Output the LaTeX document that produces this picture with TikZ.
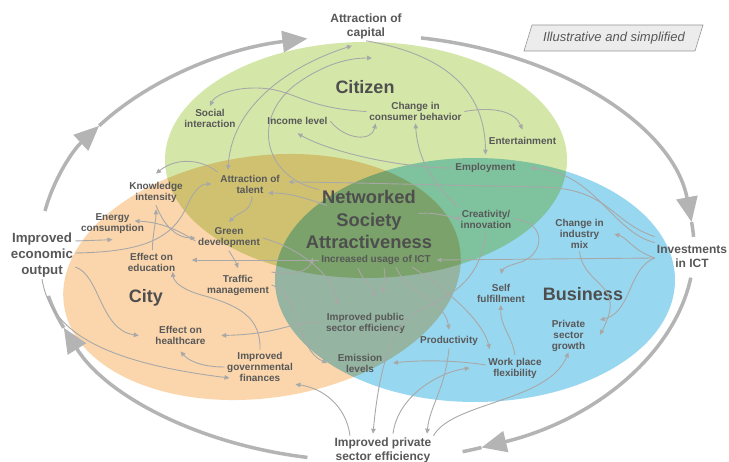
\documentclass[tikz,border=0pt]{standalone}
\usepackage{fontspec}
\setmainfont{Liberation Sans}
\usetikzlibrary{arrows.meta,calc}
\definecolor{txt}{RGB}{88,88,88}
\definecolor{bigtxt}{RGB}{78,78,78}
\definecolor{conn}{RGB}{168,168,168}
\definecolor{ringC}{RGB}{180,180,180}
\definecolor{greenF}{RGB}{212,231,168}
\definecolor{orangeF}{RGB}{251,214,172}
\definecolor{blueF}{RGB}{152,215,240}
\begin{document}
\begin{tikzpicture}[x=1pt,y=-1pt,
  slbl/.style={font=\fontsize{10}{11}\selectfont\bfseries, text=txt, align=center, inner sep=2.5pt},
  olbl/.style={font=\fontsize{12}{14}\selectfont\bfseries, text=txt, align=center, inner sep=2pt},
  elbl/.style={font=\fontsize{13.3}{15.7}\selectfont\bfseries, text=txt, align=center, inner sep=2pt},
  blbl/.style={font=\fontsize{18}{21}\selectfont\bfseries, text=bigtxt, align=center, inner sep=1pt},
  con/.style={draw=conn, line width=0.9pt, -{Triangle[length=5pt,width=4.5pt]}},
  ringline/.style={draw=ringC, line width=3.5pt},
  ringarrow/.style={ringline, -{Triangle[length=25pt,width=21pt]}},
]
\useasboundingbox (0,0) rectangle (729,462);
\fill[white] (0,0) rectangle (729,462);

% the three domains
\begin{scope}[blend group=multiply]
  \fill[greenF] (366,160) ellipse [x radius=201, y radius=118];
  \fill[orangeF, rotate around={8:(262,277)}] (262,277) ellipse [x radius=200, y radius=121];
  \fill[blueF] (475,280) ellipse [x radius=200, y radius=122];
\end{scope}

% outer cycle
\coordinate (O) at (367,248);
\draw[ringarrow] ([shift={(190:327 and 213)}]O) arc[start angle=190, end angle=215, x radius=327, y radius=213];
\draw[ringarrow] ([shift={(215:327 and 213)}]O) arc[start angle=215, end angle=259.5, x radius=327, y radius=213];
\draw[ringarrow] ([shift={(279.5:327 and 213)}]O) arc[start angle=279.5, end angle=353, x radius=327, y radius=213];
\draw[ringline] ([shift={(353:327 and 213)}]O) arc[start angle=353, end angle=357, x radius=327, y radius=213];
\draw[ringarrow] ([shift={(368:327 and 213)}]O) arc[start angle=368, end angle=429.5, x radius=327, y radius=213];
\draw[ringline] ([shift={(429.5:327 and 213)}]O) arc[start angle=429.5, end angle=433, x radius=327, y radius=213];
\draw[ringarrow] ([shift={(100.5:327 and 213)}]O) arc[start angle=100.5, end angle=158, x radius=327, y radius=213];
\draw[ringline] ([shift={(158:327 and 213)}]O) arc[start angle=158, end angle=167, x radius=327, y radius=213];

% illustrative box
\draw[draw={rgb,255:red,150;green,150;blue,150}, fill={rgb,255:red,236;green,236;blue,236}, line width=0.6pt]
  (532,25) -- (703,25) -- (695,51) -- (524,51) -- cycle;
\node[font=\fontsize{13}{15}\selectfont\itshape, text=txt] (illus) at (614,38) {Illustrative and simplified};

% outer labels
\node[olbl] (cap) at (366,26) {Attraction of\\capital};
\node[olbl] (ict) at (692,256) {Investments\\in ICT};
\node[olbl] (pse) at (383,450.5) {Improved private\\sector efficiency};
\node[elbl] (eco) at (42,255) {Improved\\economic\\output};

% domain labels
\node[blbl] (citizen) at (365,87) {Citizen};
\node[blbl] (city) at (146,298) {City};
\node[blbl] (business) at (583,294) {Business};
\node[blbl, font=\fontsize{18.3}{22.5}\selectfont\bfseries] (nsa) at (369,219.5) {Networked\\Society\\Attractiveness};
\node[slbl] (usage) at (376,260) {Increased usage of ICT};

% small labels
\node[slbl] (social) at (210,118) {Social\\interaction};
\node[slbl] (income) at (297.5,121) {Income level};
\node[slbl] (consumer) at (415.5,111.5) {Change in\\consumer behavior};
\node[slbl] (entertain) at (522.5,141) {Entertainment};
\node[slbl] (employ) at (485.5,168) {Employment};
\node[slbl] (knowledge) at (156,192.5) {Knowledge\\intensity};
\node[slbl] (talent) at (250,184) {Attraction of\\talent};
\node[slbl] (energy) at (112.5,224) {Energy\\consumption};
\node[slbl] (green) at (229,238) {Green\\development};
\node[slbl] (education) at (151.5,262) {Effect on\\education};
\node[slbl] (traffic) at (238,285) {Traffic\\management};
\node[slbl] (creativity) at (486,219) {Creativity/\\innovation};
\node[slbl] (industry) at (579.5,234) {Change in\\industry\\mix};
\node[slbl] (selff) at (501,293) {Self\\fulfillment};
\node[slbl] (growth) at (568.5,336) {Private\\sector\\growth};
\node[slbl] (pubeff) at (365.5,323) {Improved public\\sector efficiency};
\node[slbl] (prod) at (449,341) {Productivity};
\node[slbl] (emission) at (360,363) {Emission\\levels};
\node[slbl] (workplace) at (515,368) {Work place\\flexibility};
\node[slbl] (health) at (180.5,335.5) {Effect on\\healthcare};
\node[slbl] (govfin) at (260,367) {Improved\\governmental\\finances};

% connectors - citizen
\draw[con] (cap.south) .. controls (430,52) and (485,80) .. ([yshift=6pt]employ.north);
\draw[con, {Triangle[length=5pt,width=4.5pt]}-{Triangle[length=5pt,width=4.5pt]}] ([xshift=-14pt,yshift=-5pt]cap.south) .. controls (300,62) and (232,100) .. ([xshift=-22pt,yshift=2pt]talent.north);
\draw[con] ([shift={(-50,-30)}]nsa.center) .. controls (265,178) and (250,120) .. (295,85) .. controls (325,63) and (350,58) .. ([shift={(6,32)}]cap.center);
\draw[con] (income.east) .. controls (345,140) and (372,142) .. ([xshift=-40pt]consumer.south);
\draw[con] (consumer.east) .. controls (495,106) and (515,112) .. ([yshift=5pt]entertain.north);
\draw[con] (consumer.west) .. controls (300,108) and (295,88) .. (255,88) .. controls (228,88) and (214,97) .. (social.north);
\draw[con] (creativity.north west) .. controls (440,190) and (418,165) .. (consumer.south);
\draw[con] (employ.west) .. controls (400,168) and (330,152) .. ([yshift=-6pt]income.south);
% city
\draw[con] (talent.north west) .. controls (200,158) and (175,158) .. ([yshift=6pt]knowledge.north);
\draw[con] ([yshift=14pt]eco.east) -- ([yshift=-3pt]energy.south);
\draw[con] ([yshift=2pt]eco.east) .. controls (140,252) and (170,240) .. (185,210) .. controls (193,192) and (200,184) .. ([xshift=-6pt]talent.west);
\draw[con] (knowledge.south) .. controls (165,228) and (178,238) .. (green.west);
\draw[con] ([yshift=-3pt]green.west) .. controls (175,228) and (158,222) .. ([xshift=-12pt,yshift=3pt]energy.east);
\draw[con] ([xshift=1pt]education.north) .. controls (152,238) and (156,222) .. ([yshift=-4pt]knowledge.south);
\draw[con] ([xshift=2pt]talent.south) .. controls (252,212) and (238,212) .. ([yshift=3pt]green.north);
\draw[con] (green.south) .. controls (232,256) and (236,262) .. ([yshift=4pt]traffic.north);
\draw[con] (usage.west) -- ([xshift=14pt,yshift=2pt]education.east);
\draw[con] (govfin.north) .. controls (261,318) and (240,306) .. (205,296) .. controls (182,290) and (174,282) .. ([xshift=21pt,yshift=2pt]education.south);
\draw[con] (pubeff.west) .. controls (290,320) and (285,334) .. ([xshift=13pt]health.east);
\draw[con] (govfin.west) .. controls (200,367) and (188,360) .. ([yshift=-4pt]health.south);
\draw[con] (eco.south) .. controls (50,330) and (100,362) .. ([xshift=5pt,yshift=-11pt]govfin.west);
\draw[con] ([yshift=-12pt]eco.east) .. controls (100,275) and (100,330) .. ([xshift=-14pt]health.west);
\draw[con] ([xshift=-33pt]pse.north) .. controls (346,405) and (322,388) .. (govfin.south east);
\draw[con] (traffic.north east) .. controls (295,275) and (308,272) .. ([shift={(-56,38)}]nsa.center);
\draw[con] (traffic.east) .. controls (300,292) and (296,350) .. ([xshift=-8pt]emission.west);
\draw[con] (green.east) .. controls (300,248) and (333,275) .. ([shift={(-28,-18)}]pubeff.center);
% centre
\draw[con] ([yshift=-2pt]ict.west) -- ([xshift=3pt]usage.east);
\draw[con] ([shift={(-42,-14)}]nsa.center) .. controls (305,198) and (290,193) .. ([shift={(18,9)}]talent.center);
\draw[con] ([shift={(50,-6)}]nsa.center) .. controls (435,212) and (445,216) .. ([xshift=4pt]creativity.west);
\draw[con] ([shift={(-18,8)}]usage.center) .. controls (362,280) and (372,285) .. ([shift={(10,-26)}]pubeff.center);
\draw[con] ([shift={(8,8)}]usage.center) .. controls (386,278) and (384,285) .. ([shift={(17,-30)}]pubeff.center);
\draw[con] ([shift={(20,7)}]usage.center) .. controls (405,292) and (445,300) .. ([yshift=4pt]prod.north);
\draw[con] ([shift={(36,7)}]usage.center) .. controls (440,285) and (482,318) .. ([xshift=4pt,yshift=6pt]workplace.north west);
% business
\draw[con] (creativity.south) .. controls (480,290) and (440,298) .. (412,315) .. controls (388,332) and (378,380) .. ([xshift=-10pt,yshift=2pt]pse.north);
\draw[con] (prod.south) .. controls (445,390) and (430,405) .. ([xshift=44pt,yshift=2pt]pse.north);
\draw[con] ([xshift=10pt,yshift=2pt]pse.north) .. controls (398,395) and (440,372) .. ([xshift=-16pt]workplace.west);
\draw[con] ([yshift=3pt]workplace.west) .. controls (455,360) and (420,360) .. ([xshift=8pt]emission.east);
\draw[con] (pse.north east) .. controls (452,402) and (548,402) .. ([yshift=2pt]growth.south);
\draw[con] (workplace.north) .. controls (512,336) and (500,326) .. (selff.south);
\draw[con] ([yshift=-2pt]ict.west) .. controls (628,268) and (632,312) .. ([xshift=12pt,yshift=16pt]growth.east);
\draw[con] (industry.south) .. controls (584,288) and (628,282) .. ([xshift=12pt,yshift=1pt]growth.east);
\draw[con] ([yshift=-2pt]ict.west) .. controls (632,250) and (628,238) .. ([xshift=8pt]industry.east);
\draw[con] (ict.north west) .. controls (612,232) and (595,172) .. ([xshift=12pt]employ.east);
\draw[con] ([yshift=6pt]ict.north west) .. controls (610,222) and (610,188) .. (540,187) .. controls (430,185) and (330,182) .. ([xshift=6pt,yshift=2pt]talent.east);
\draw[con] (creativity.east) .. controls (548,222) and (545,256) .. (518,263) .. controls (506,266) and (502,270) .. ([yshift=7pt]selff.north);
\end{tikzpicture}
\end{document}
